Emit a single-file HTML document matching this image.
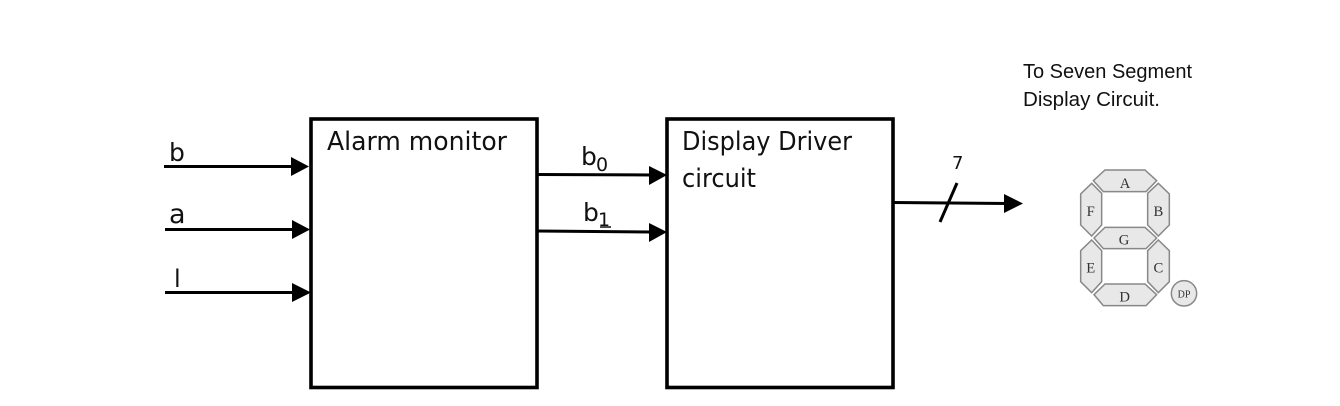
<!DOCTYPE html>
<html><head><meta charset="utf-8"><style>
html,body{margin:0;padding:0;background:#fff}
svg{display:block}
text{font-family:"DejaVu Sans","Liberation Sans",sans-serif;fill:#111}
.l{font-family:"Liberation Sans",sans-serif}
.s{font-family:"Liberation Serif",serif;fill:#333;font-size:44px;text-anchor:middle}
</style></head><body>
<svg width="1340" height="406" viewBox="0 0 1340 406" xmlns="http://www.w3.org/2000/svg">
<g fill="none" stroke="#000" stroke-width="3.600">
<rect x="311" y="119" width="226" height="268.500"/>
<rect x="667" y="119" width="226" height="268.500"/>
</g>
<g stroke="#000" stroke-width="3">
<line x1="164" y1="166.500" x2="295" y2="166.500"/>
<line x1="165" y1="229.500" x2="295" y2="229.500"/>
<line x1="165" y1="292.500" x2="295" y2="292.500"/>
<line x1="537" y1="174.500" x2="652" y2="175"/>
<line x1="537" y1="231" x2="652" y2="232"/>
<line x1="893" y1="202.500" x2="1008" y2="203.500"/>
<line x1="957" y1="183" x2="940" y2="222" stroke-width="3"/>
</g>
<g fill="#000">
<polygon points="291,157 309,166.500 291,176"/>
<polygon points="292,220 310,229.500 292,239"/>
<polygon points="292,283 311,292.500 292,302"/>
<polygon points="649,166 667,175 649,185"/>
<polygon points="649,223 667,232 649,242"/>
<polygon points="1004,194 1023,203.500 1004,213"/>
</g>
<text x="327" y="150" font-size="26" textLength="180" lengthAdjust="spacingAndGlyphs">Alarm monitor</text>
<text x="682" y="150" font-size="26" textLength="170" lengthAdjust="spacingAndGlyphs">Display Driver</text>
<text x="682" y="187" font-size="26" textLength="74" lengthAdjust="spacingAndGlyphs">circuit</text>
<text x="169" y="161" font-size="25">b</text>
<text x="169" y="223" font-size="27">a</text>
<text x="174" y="287" font-size="24">l</text>
<text x="581" y="165" font-size="25">b</text>
<text x="596" y="171" font-size="19">0</text>
<text x="583" y="221" font-size="25">b</text>
<text x="598" y="226" font-size="19">1</text>
<line x1="600" y1="227" x2="611" y2="227" stroke="#111" stroke-width="1.500"/>
<text x="952" y="169" font-size="18">7</text>
<text class="l" x="1023" y="78" font-size="20" textLength="169" lengthAdjust="spacingAndGlyphs">To Seven Segment</text>
<text class="l" x="1023" y="106" font-size="20" textLength="137" lengthAdjust="spacingAndGlyphs">Display Circuit.</text>
<g transform="translate(1060 160) scale(0.33333)">
<g fill="#e8e8e8" stroke="#888" stroke-width="4.500">
<polygon points="100,62 135,30 255,30 290,62 258,95 130,95"/>
<polygon points="102,234 135,202 255,202 290,234 258,266 130,266"/>
<polygon points="102,404 135,372 255,372 290,404 258,437 130,437"/>
<polygon points="95,70 125,100 125,195 95,228 62,195 62,102"/>
<polygon points="295,70 328,102 328,195 295,228 263,195 263,100"/>
<polygon points="95,240 125,272 125,365 95,398 62,365 62,272"/>
<polygon points="295,240 328,272 328,365 295,398 263,365 263,272"/>
<circle cx="372" cy="400" r="38"/>
</g>
<text class="s" x="195" y="84">A</text>
<text class="s" x="295" y="168">B</text>
<text class="s" x="92" y="168">F</text>
<text class="s" x="192" y="254">G</text>
<text class="s" x="92" y="338">E</text>
<text class="s" x="295" y="338">C</text>
<text class="s" x="194" y="424">D</text>
<text class="s" x="372" y="412" style="font-size:30px">DP</text>
</g>
</svg>
</body></html>
